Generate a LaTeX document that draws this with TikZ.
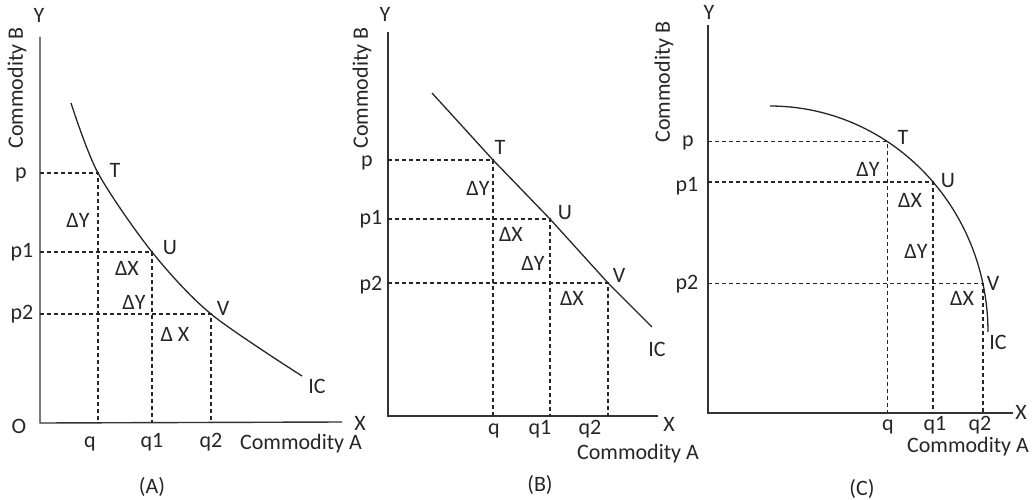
\documentclass[tikz,border=0pt]{standalone}
\usepackage{fontspec}
\setmainfont{Carlito}
\usetikzlibrary{calc}

\begin{document}
\begin{tikzpicture}[x=1pt, y=-1pt,
    axisline/.style={line width=1.4pt, black!80},
    icline/.style={line width=1.3pt, black!85},
    guide/.style={line width=1.1pt, black!85, dash pattern=on 4pt off 3pt},
    lbl/.style={font=\fontsize{22}{26}\selectfont, inner sep=0pt, text=black!85}]

\useasboundingbox (0,0) rectangle (1035,500);

% Panel (A): convex curve
\coordinate (aO) at (40,423);
\coordinate (aT) at (98,173);
\coordinate (aU) at (152,252);
\coordinate (aV) at (211,314);

\draw[axisline] (40,37) -- (aO) -- (342,422);
\draw[icline] plot[smooth] coordinates {(71,103) (aT) (aU) (aV) (302,376)};
\foreach \pt in {aT,aU,aV}
  \draw[guide] (aO |- \pt) -- (\pt) -- (\pt |- aO);

\node[lbl] (aYl) at (39,15) {Y};
\node[lbl] (aXl) at (360,423) {X};
\node[lbl] (aOl) at (19,426) {O};
\node[lbl, rotate=90] (aB) at (17,88) {Commodity B};
\node[lbl, anchor=mid] (aA) at (301,447) {Commodity A};
\node[lbl, anchor=mid] (ap) at (21,176) {p};
\node[lbl, anchor=mid] (ap1) at (22,255) {p1};
\node[lbl, anchor=mid] (ap2) at (22,317) {p2};
\node[lbl, anchor=mid] (aq) at (90,445) {q};
\node[lbl, anchor=mid] (aq1) at (152,445) {q1};
\node[lbl, anchor=mid] (aq2) at (211,445) {q2};
\node[lbl] (aTl) at (115,170) {T};
\node[lbl] (aUl) at (170,248) {U};
\node[lbl] (aVl) at (223,308) {V};
\node[lbl] (aIC) at (317,386) {IC};
\node[lbl] (ady1) at (78,220) {ΔY};
\node[lbl] (adx1) at (127,268) {ΔX};
\node[lbl] (ady2) at (134,302) {ΔY};
\node[lbl] (adx2) at (175,334) {Δ X};
\node[lbl] (acap) at (152,487) {(A)};

% Panel (B): straight line
\coordinate (bO) at (388,416);
\coordinate (bS) at (432,93);
\coordinate (bT) at (493,160);
\coordinate (bU) at (550,219);
\coordinate (bV) at (608,283);
\coordinate (bE) at (652,327);

\draw[axisline] (388,32) -- (bO) -- (658,416);
\draw[icline] (bS) -- (bT) -- (bU) -- (bV) -- (bE);
\foreach \pt in {bT,bU,bV}
  \draw[guide] (bO |- \pt) -- (\pt) -- (\pt |- bO);

\node[lbl] (bYl) at (385,14) {Y};
\node[lbl] (bXl) at (669,424) {X};
\node[lbl, rotate=90] (bB) at (362,88) {Commodity B};
\node[lbl, anchor=mid] (bA) at (638,457) {Commodity A};
\node[lbl, anchor=mid] (bp) at (367,164) {p};
\node[lbl, anchor=mid] (bp1) at (371,222) {p1};
\node[lbl, anchor=mid] (bp2) at (371,288) {p2};
\node[lbl, anchor=mid] (bq) at (494,432) {q};
\node[lbl, anchor=mid] (bq1) at (540,432) {q1};
\node[lbl, anchor=mid] (bq2) at (590,432) {q2};
\node[lbl] (bTl) at (500,147) {T};
\node[lbl] (bUl) at (565,213) {U};
\node[lbl] (bVl) at (619,275) {V};
\node[lbl] (bIC) at (657,349) {IC};
\node[lbl] (bdy1) at (478,188) {ΔY};
\node[lbl] (bdx1) at (511,234) {ΔX};
\node[lbl] (bdy2) at (533,263) {ΔY};
\node[lbl] (bdx2) at (572,298) {ΔX};
\node[lbl] (bcap) at (540,485) {(B)};

% Panel (C): concave curve
\coordinate (cO) at (708,413);
\coordinate (cT) at ({770+218*cos(-57.5)},{332+226*sin(-57.5)});
\coordinate (cU) at ({770+218*cos(-41.6)},{332+226*sin(-41.6)});
\coordinate (cV) at ({770+218*cos(-12.3)},{332+226*sin(-12.3)});

\draw[axisline] (708,25) -- (cO) -- (1013,413);
\draw[icline] plot[domain=-90:0, samples=60] ({770+218*cos(\x)},{332+226*sin(\x)});
\foreach \pt in {cT,cU,cV}
  \draw[guide] (cO |- \pt) -- (\pt) -- (\pt |- cO);

\node[lbl] (cYl) at (709,12) {Y};
\node[lbl] (cXl) at (1021,412) {X};
\node[lbl, rotate=90] (cB) at (664,82) {Commodity B};
\node[lbl, anchor=mid] (cA) at (968,450) {Commodity A};
\node[lbl, anchor=mid] (cp) at (688,144) {p};
\node[lbl, anchor=mid] (cp1) at (687,189) {p1};
\node[lbl, anchor=mid] (cp2) at (687,287) {p2};
\node[lbl, anchor=mid] (cq) at (888,428) {q};
\node[lbl, anchor=mid] (cq1) at (935,428) {q1};
\node[lbl, anchor=mid] (cq2) at (980,428) {q2};
\node[lbl] (cTl) at (903,137) {T};
\node[lbl] (cUl) at (948,181) {U};
\node[lbl] (cVl) at (993,283) {V};
\node[lbl] (cIC) at (998,342) {IC};
\node[lbl] (cdy1) at (868,169) {ΔY};
\node[lbl] (cdx1) at (910,200) {ΔX};
\node[lbl] (cdy2) at (916,251) {ΔY};
\node[lbl] (cdx2) at (962,298) {ΔX};
\node[lbl] (ccap) at (862,489) {(C)};

\end{tikzpicture}
\end{document}
